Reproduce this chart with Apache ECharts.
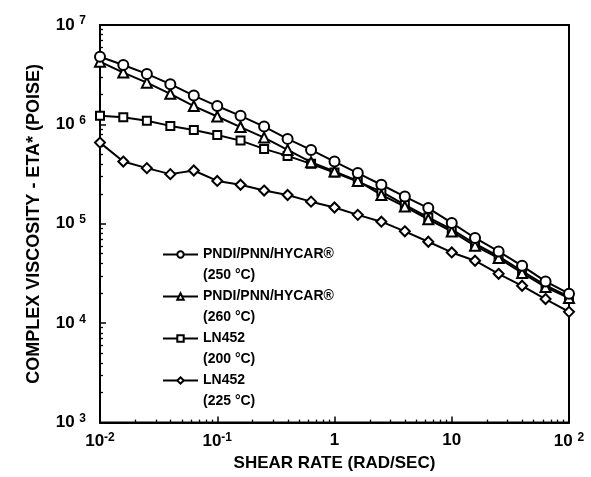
<!DOCTYPE html>
<html><head><meta charset="utf-8">
<script src="https://cdn.jsdelivr.net/npm/echarts@6/dist/echarts.min.js"></script>
<style>html,body{margin:0;padding:0;background:#fff}#c{width:591px;height:477px}</style>
</head><body><div id="c"></div>
<script>
// Shear rate (rad/sec)
const shearRates = [0.01, 0.0158, 0.0251, 0.0398, 0.0631, 0.1, 0.158, 0.251, 0.398, 0.631,
  1, 1.58, 2.51, 3.98, 6.31, 10, 15.8, 25.1, 39.8, 63.1, 100];

// Complex viscosity (poise)
const pndi250 = [4.8e6, 3.96e6, 3.22e6, 2.54e6, 1.95e6, 1.53e6, 1.22e6, 9.5e5, 7.15e5, 5.54e5,
  4.23e5, 3.24e5, 2.47e5, 1.88e5, 1.44e5, 1.02e5, 7.2e4, 5.27e4, 3.78e4, 2.63e4, 1.98e4];
const pndi260 = [4.28e6, 3.32e6, 2.63e6, 2.03e6, 1.53e6, 1.20e6, 9.4e5, 7.37e5, 5.54e5, 4.17e5,
  3.36e5, 2.70e5, 1.95e5, 1.49e5, 1.11e5, 8.37e4, 6.01e4, 4.52e4, 3.2e4, 2.31e4, 1.79e4];
const ln452_200 = [1.22e6, 1.18e6, 1.09e6, 9.66e5, 8.8e5, 7.84e5, 6.87e5, 5.67e5, 4.82e5, 4.01e5,
  3.28e5, 2.66e5, 2.11e5, 1.55e5, 1.16e5, 8.8e4, 6.3e4, 4.7e4, 3.35e4, 2.4e4, 1.85e4];
const ln452_225 = [6.56e5, 4.23e5, 3.63e5, 3.16e5, 3.44e5, 2.70e5, 2.47e5, 2.16e5, 1.95e5, 1.67e5,
  1.46e5, 1.23e5, 1.05e5, 8.4e4, 6.6e4, 5.15e4, 4.25e4, 3.14e4, 2.38e4, 1.75e4, 1.30e4];

const seriesNames = ['PNDI/PNN/HYCAR®', 'PNDI/PNN/HYCAR®', 'LN452', 'LN452'];
const seriesTemps = ['(250 °C)', '(260 °C)', '(200 °C)', '(225 °C)'];

// Tick labels: [base, exponent]
const xTickLabels = { '-2': ['10', '-2'], '-1': ['10', '-1'], '0': ['1', ''], '1': ['10', ''], '2': ['10 ', '2'] };
const yTickLabels = { '3': ['10 ', '3'], '4': ['10 ', '4'], '5': ['10 ', '5'], '6': ['10 ', '6'], '7': ['10 ', '7'] };

const xTitle = 'SHEAR RATE (RAD/SEC)';
const yTitle = 'COMPLEX VISCOSITY - ETA* (POISE)';

const FONT = '"Liberation Sans", Arial, Helvetica, sans-serif';
const pair = (xs, ys) => xs.map((x, i) => [x, ys[i]]);
const fullName = i => seriesNames[i] + '\n' + seriesTemps[i];

const rich = {
  b: { fontFamily: FONT, fontWeight: 'bold', fontSize: 17, color: '#000' },
  s: { fontFamily: FONT, fontWeight: 'bold', fontSize: 12, color: '#000', verticalAlign: 'top', padding: [0, 0, 8, 0] }
};
function labelFmt(table) {
  return function (v) {
    const e = String(Math.round(Math.log10(v)));
    const t = table[e];
    if (!t) return '';
    return t[1] ? '{b|' + t[0] + '}{s|' + t[1] + '}' : '{b|' + t[0] + '}';
  };
}

const lineStyle = { color: '#000', width: 2 };
function mk(i, data, symbol, size) {
  return {
    name: fullName(i), type: 'line', data: data, symbol: symbol, symbolSize: size,
    showSymbol: true, lineStyle: lineStyle,
    itemStyle: { color: '#fff', borderColor: '#000', borderWidth: 2 },
    emphasis: { disabled: true }, animation: false
  };
}

const axisCommon = {
  axisLine: { show: true, lineStyle: { color: '#000', width: 2 } },
  axisTick: { show: true, inside: true, length: 6, lineStyle: { color: '#000', width: 1.5 } },
  minorTick: { show: true, splitNumber: 9, length: 3, lineStyle: { color: '#000', width: 1.3 } },
  splitLine: { show: false },
  minorSplitLine: { show: false }
};

const chart = echarts.init(document.getElementById('c'), null, { renderer: 'canvas' });
chart.setOption({
  backgroundColor: '#fff',
  animation: false,
  grid: { left: 100, right: 22, top: 25, bottom: 54, show: true, borderColor: '#000', borderWidth: 2, backgroundColor: 'transparent' },
  xAxis: Object.assign({
    type: 'log', logBase: 10, min: 0.01, max: 100,
    axisLabel: { formatter: labelFmt(xTickLabels), rich: rich, margin: 9 },
    name: xTitle, nameLocation: 'middle', nameGap: 32,
    nameTextStyle: { fontFamily: FONT, fontWeight: 'bold', fontSize: 17, color: '#000' }
  }, axisCommon),
  yAxis: Object.assign({
    type: 'log', logBase: 10, min: 1e3, max: 1e7,
    axisLabel: { formatter: labelFmt(yTickLabels), rich: rich, margin: 14 },
    name: yTitle, nameLocation: 'middle', nameGap: 57,
    nameTextStyle: { fontFamily: FONT, fontWeight: 'bold', fontSize: 18, color: '#000' }
  }, axisCommon),
  legend: {
    orient: 'vertical', left: 162, top: 223, padding: 0,
    itemWidth: 35, itemHeight: 8, itemGap: -21,
    data: [fullName(0), fullName(1), fullName(2), fullName(3)],
    formatter: name => ' \n' + name,
    textStyle: { fontFamily: FONT, fontWeight: 'bold', fontSize: 14, color: '#000', lineHeight: 21 },
    selectedMode: false
  },
  series: [
    mk(2, pair(shearRates, ln452_200), 'rect', 8),
    mk(3, pair(shearRates, ln452_225), 'diamond', 10),
    mk(1, pair(shearRates, pndi260), 'triangle', 10),
    mk(0, pair(shearRates, pndi250), 'circle', 10)
  ]
});
</script>
</body></html>
